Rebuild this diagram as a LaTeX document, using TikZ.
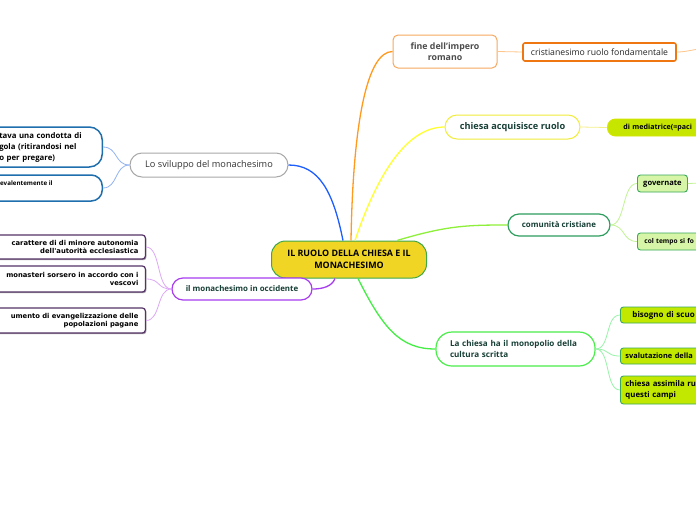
\documentclass[tikz,border=0pt]{standalone}
\usepackage{fontspec}
\setmainfont{Open Sans}
\newfontfamily\vfont{DejaVu Sans}
\usetikzlibrary{calc,shadows}
\definecolor{cfill}{HTML}{F0D524}
\definecolor{cborder}{HTML}{3EA84A}
\definecolor{teal}{HTML}{173F36}
\definecolor{orgA}{HTML}{F5A860}
\definecolor{orgB}{HTML}{EE7711}
\definecolor{orgC}{HTML}{FF9A1F}
\definecolor{orgL}{HTML}{FFC58A}
\definecolor{yelB}{HTML}{F2EC3A}
\definecolor{yelC}{HTML}{FFFF33}
\definecolor{yelL}{HTML}{F5F08A}
\definecolor{limeF}{HTML}{C6E600}
\definecolor{limeB}{HTML}{D5E400}
\definecolor{grnB}{HTML}{2E9E5E}
\definecolor{grnC}{HTML}{8EF03A}
\definecolor{grnL}{HTML}{C2F394}
\definecolor{paleF}{HTML}{D6F5A6}
\definecolor{leafB}{HTML}{38A85C}
\definecolor{brgB}{HTML}{4BEE4B}
\definecolor{brgC}{HTML}{44EE44}
\definecolor{brgL}{HTML}{98F2A8}
\definecolor{leafF}{HTML}{C2E800}
\definecolor{bluC}{HTML}{1E5EFF}
\definecolor{bluB}{HTML}{1F6FAE}
\definecolor{bluL}{HTML}{93B3F2}
\definecolor{grayB}{HTML}{A8A8A8}
\definecolor{purC}{HTML}{A83CF0}
\definecolor{purL}{HTML}{DDA8F5}
\definecolor{purD}{HTML}{553366}
\tikzset{
  mainconn/.style={line width=1.3pt},
  leafconn/.style={line width=0.8pt},
  pill/.style={draw, fill=white, rounded corners=#1, inner sep=0pt},
  leafbox/.style={draw=leafB, line width=0.9pt, rounded corners=3, inner sep=0pt, anchor=west, text=black},
  purbox/.style={draw=purD, line width=1.2pt, fill=white, rounded corners=3, anchor=east, text width=161pt,
     drop shadow={shadow xshift=1pt, shadow yshift=-1.2pt, fill=black!45, opacity=0.8},
     align=right, inner xsep=7pt, inner ysep=0pt, font=\vfont\bfseries\fontsize{6.8}{8}\selectfont}
}
\begin{document}
\begin{tikzpicture}[x=1pt,y=-1pt]
\useasboundingbox (0,0) rectangle (696,520);
\clip (0,0) rectangle (696,520);
\fill[white] (0,0) rectangle (696,520);

% central
\node[draw=cborder, fill=cfill, line width=1pt, rounded corners=14, minimum width=155, minimum height=37,
  inner sep=0pt, align=center, font=\bfseries\fontsize{8.9}{12}\selectfont] (c) at (349,259.5) {IL RUOLO DELLA CHIESA E IL\\MONACHESIMO};

% orange branch
\node[pill=5, draw=orgA, line width=1pt, minimum width=104, minimum height=33, align=center,
  text=black!70, font=\bfseries\fontsize{8.8}{11}\selectfont] (fine) at (445,51.5) {fine dell'impero\\romano};
\node[pill=2, draw=orgB, line width=1.6pt, minimum width=153, minimum height=18,
  text=black!85, font=\fontsize{8.7}{10}\selectfont] (cris) at (599.5,52) {cristianesimo ruolo fondamentale};
\coordinate (crisout) at (702,49);

% yellow branch
\node[pill=12, draw=yelB, line width=1pt, minimum width=135, minimum height=24,
  text=teal, font=\bfseries\fontsize{9.2}{11}\selectfont] (acq) at (512.5,127) {chiesa acquisisce ruolo};
\node[draw=limeB, fill=limeF, line width=0.9pt, rounded corners=8, anchor=west, minimum height=17, minimum width=110,
  inner xsep=0pt, inner ysep=0pt, text width=100pt, align=left, text=black,
  font=\bfseries\fontsize{7.1}{10}\selectfont] (med) at (607,127.5) {\hspace*{11pt}di mediatrice(=paci};

% green branch
\node[pill=11, draw=grnB, line width=1.2pt, minimum width=102, minimum height=22,
  text=teal, font=\bfseries\fontsize{7.9}{10}\selectfont] (com) at (559,225) {comunità cristiane};
\node[leafbox, fill=paleF, minimum width=50, minimum height=17,
  font=\bfseries\fontsize{7.6}{10}\selectfont] (gov) at (637,183.5) {governate};
\coordinate (govout) at (702,183);
\node[leafbox, fill=paleF, minimum width=80, minimum height=17, text width=74pt, align=left, inner xsep=0pt,
  font=\bfseries\fontsize{6.6}{10}\selectfont] (col) at (637,241.5) {\hspace*{4pt}col tempo si fo};

% bright green branch
\node[pill=16, draw=brgB, line width=1.2pt, minimum width=159, minimum height=34, text width=131pt, align=left,
  text=teal, font=\bfseries\fontsize{8.1}{11}\selectfont] (mon) at (515.5,349) {La chiesa ha il monopolio della\\cultura scritta};
\node[leafbox, fill=leafF, minimum width=85, minimum height=16, text width=85pt, align=left,
  font=\bfseries\fontsize{8}{10}\selectfont] (bis) at (620,315) {\hspace*{12pt}bisogno di scuo};
\node[leafbox, fill=leafF, minimum width=85, minimum height=16, text width=85pt, align=left,
  font=\bfseries\fontsize{7.4}{10}\selectfont] (sva) at (620,356) {\hspace*{5pt}svalutazione della};
\node[leafbox, fill=leafF, minimum width=85, minimum height=28, text width=85pt, align=left,
  font=\bfseries\fontsize{7.8}{11.5}\selectfont] (ass) at (620,390) {\hspace*{5pt}chiesa assimila ru\\\hspace*{5pt}questi campi};

% blue branch
\node[pill=12, draw=grayB, line width=1pt, minimum width=158, minimum height=24,
  text=black!80, font=\fontsize{9.2}{11}\selectfont] (svi) at (209,165) {Lo sviluppo del monachesimo};
\node[draw=bluB, fill=white, line width=1.5pt, rounded corners=13, anchor=east, minimum height=40,
  text width=86pt, align=left, inner xsep=17pt, inner ysep=0pt,
  font=\bfseries\fontsize{7.8}{11}\selectfont] (la) at (103,147) {tava una condotta di\\gola (ritirandosi nel\\o per pregare)};
\node[draw=bluB, fill=white, line width=1.5pt, rounded corners=11, anchor=east, minimum height=26, minimum width=130,
  inner sep=0pt] (lb) at (103,188) {};
\node[anchor=west, inner sep=0pt, font=\bfseries\fontsize{6.2}{8}\selectfont] (lbt) at (0,183) {evalentemente il};

% purple branch
\node[pill=11, draw=purC, line width=1.2pt, minimum width=140, minimum height=22,
  text=teal, font=\bfseries\fontsize{7.9}{10}\selectfont] (occ) at (242,289) {il monachesimo in occidente};
\node[purbox, minimum height=24] (pa) at (146,247) {carattere di di minore autonomia\\dell'autorità ecclesiastica};
\node[purbox, minimum height=26] (pb) at (146,279) {monasteri sorsero in accordo con i\\vescovi};
\node[purbox, minimum height=25] (pc) at (146,320.5) {umento di evangelizzazione delle\\popolazioni pagane};

% main connectors
\draw[mainconn, draw=bluC] ([xshift=-6pt]c.north) .. controls +(-10,-50) and +(30,0) .. (svi.east);
\draw[mainconn, draw=orgC] ([xshift=2pt]c.north) .. controls +(2,-120) and +(-25,0) .. (fine.west);
\draw[mainconn, draw=yelC] ([xshift=6pt]c.north) .. controls +(20,-60) and +(-40,0) .. (acq.west);
\draw[mainconn, draw=grnC] ([xshift=48pt]c.north) .. controls +(50,-15) and +(-40,0) .. (com.west);
\draw[mainconn, draw=brgC] ([xshift=9pt]c.south) .. controls +(25,50) and +(-35,0) .. (mon.west);
\draw[mainconn, draw=purC] ([xshift=-14pt]c.south) .. controls +(-3,8) and +(10,0) .. (occ.east);

% leaf connectors
\draw[leafconn, draw=orgL] (fine.east) -- (cris.west);
\draw[leafconn, draw=orgL] (cris.east) .. controls +(10,0) and +(-8,0) .. (crisout);
\draw[leafconn, draw=yelL] (acq.east) -- (med.west);
\draw[leafconn, draw=grnL] (com.east) .. controls +(15,0) and +(-15,0) .. (gov.west);
\draw[leafconn, draw=grnL] (com.east) .. controls +(15,0) and +(-15,0) .. (col.west);
\draw[leafconn, draw=grnL] (gov.east) -- (govout);
\draw[leafconn, draw=brgL] (mon.east) .. controls +(15,0) and +(-15,0) .. (bis.west);
\draw[leafconn, draw=brgL] (mon.east) .. controls +(15,0) and +(-15,0) .. (sva.west);
\draw[leafconn, draw=brgL] (mon.east) .. controls +(15,0) and +(-15,0) .. (ass.west);
\draw[leafconn, draw=bluL] (svi.west) .. controls +(-15,0) and +(15,0) .. (la.east);
\draw[leafconn, draw=bluL] (svi.west) .. controls +(-15,0) and +(15,0) .. (lb.east);
\draw[leafconn, draw=purL] (occ.west) .. controls +(-15,0) and +(15,0) .. (pa.east);
\draw[leafconn, draw=purL] (occ.west) .. controls +(-15,0) and +(15,0) .. (pb.east);
\draw[leafconn, draw=purL] (occ.west) .. controls +(-15,0) and +(15,0) .. (pc.east);
\end{tikzpicture}
\end{document}
